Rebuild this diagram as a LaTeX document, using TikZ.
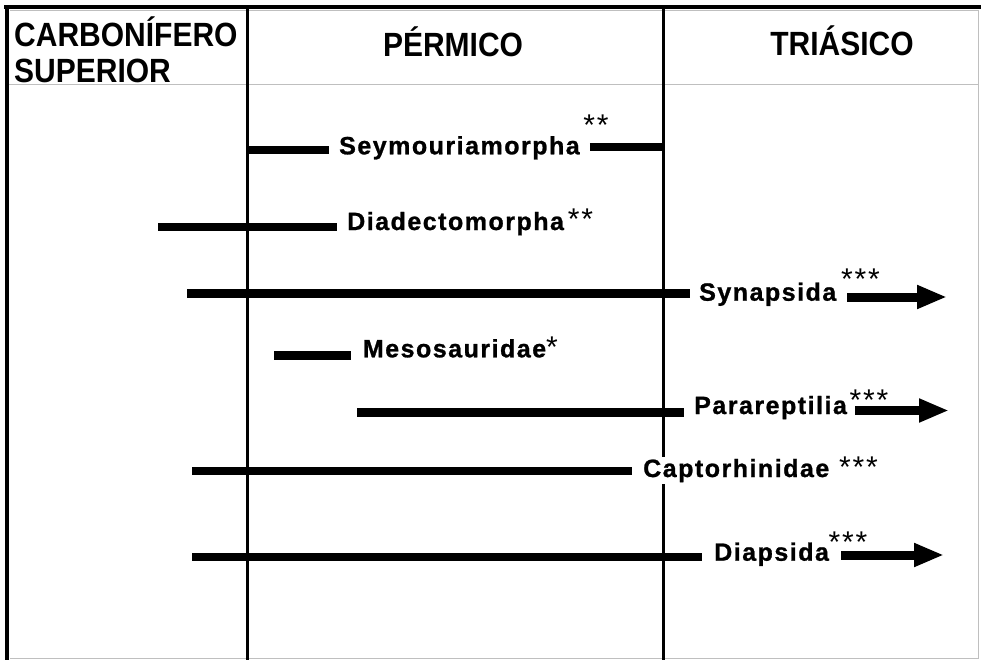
\documentclass[tikz,border=0pt]{standalone}
\usepackage{graphicx}
\usepackage{fontspec}
\setmainfont{Liberation Sans}
\newfontfamily\labfont[LetterSpace=6]{Liberation Sans}
\newfontfamily\labboldfont[LetterSpace=6, FakeBold=1]{Liberation Sans Bold}
\usetikzlibrary{arrows.meta}
\newcommand{\tallhdr}[1]{\scalebox{1}[1.12]{#1}}
\begin{document}
\begin{tikzpicture}[x=1pt,y=-1pt,
  frameline/.style={line width=4pt},
  faint/.style={line width=1pt, black!25},
  era/.style={line width=3pt},
  bar/.style={line width=8.5pt},
  fwd/.style={line width=9pt, -{Triangle[length=30pt,width=22pt]}},
  lab/.style={font=\labboldfont\fontsize{25}{30}\selectfont, inner sep=0pt, anchor=base west},
  star/.style={font=\labfont\fontsize{30}{34}\selectfont, inner sep=0pt, anchor=base},
  hdr/.style={font=\fontsize{30}{34}\selectfont\bfseries, inner sep=0pt}
]
\useasboundingbox (0,0) rectangle (981,660);
\fill[white] (0,0) rectangle (981,660);
% frame
\draw[faint] (10,10.5) -- (978.5,10.5) -- (978.5,658) -- (10,658);
\draw[faint] (8,85) -- (978.5,85);
\draw[frameline] (4,7.5) -- (981,7.5);
\draw[frameline] (6.5,5.5) -- (6.5,660);
\draw[era] (247,7) -- (247,660);
\draw[era] (663,7) -- (663,660);
% headers
\node[hdr, anchor=base west] (carb1) at (14,47) {\tallhdr{CARBONÍFERO}};
\node[hdr, anchor=base west] (carb2) at (14,83) {\tallhdr{SUPERIOR}};
\node[hdr, anchor=base] (perm) at (453,57) {\tallhdr{PÉRMICO}};
\node[hdr, anchor=base] (tria) at (842,56) {\tallhdr{TRIÁSICO}};
% labels
\node[lab] (seym) at (339,154.3) {Seymouriamorpha};
\node[lab] (diad) at (347,230) {Diadectomorpha};
\node[lab] (syn) at (699,300.7) {Synapsida};
\node[lab] (meso) at (362.7,357.3) {Mesosauridae};
\node[lab] (para) at (694,414) {Parareptilia};
\node[lab, fill=white, inner ysep=2pt] (capt) at (643,477) {Captorhinidae};
\node[lab] (diap) at (714,560.7) {Diapsida};
% asterisks
\node[star] (seymS) at (596,135.2) {**};
\node[star] (diadS) at (580.5,229.7) {**};
\node[star] (synS) at (860.5,289.2) {***};
\node[star] (mesoS) at (552,357.7) {*};
\node[star] (paraS) at (869,410.2) {***};
\node[star] (captS) at (858.5,477.7) {***};
\node[star] (diapS) at (848,552.7) {***};
% bar ends
\coordinate (seymA) at (248,150);
\coordinate (seymB) at (662,147);
\coordinate (diadA) at (158,227);
\coordinate (synA) at (187,293.5);
\coordinate (synT) at (947,297);
\coordinate (mesoA) at (274,355.5);
\coordinate (paraA) at (357,412.5);
\coordinate (paraT) at (949,410.5);
\coordinate (captA) at (192,471);
\coordinate (diapA) at (192,557);
\coordinate (diapT) at (944,555);
% bars
\draw[bar, shorten >=10pt] (seymA) -- (seymA -| seym.west);
\draw[bar, shorten <=10pt] (seymB -| seym.east) -- (seymB);
\draw[bar, shorten >=10pt] (diadA) -- (diadA -| diad.west);
\draw[bar, shorten >=9pt] (synA) -- (synA -| syn.west);
\draw[fwd, shorten <=11pt] (synT -| syn.east) -- (synT);
\draw[bar, shorten >=11.7pt] (mesoA) -- (mesoA -| meso.west);
\draw[bar, shorten >=10pt] (paraA) -- (paraA -| para.west);
\draw[fwd, shorten <=8pt] (paraT -| para.east) -- (paraT);
\draw[bar, shorten >=11pt] (captA) -- (captA -| capt.west);
\draw[bar, shorten >=12pt] (diapA) -- (diapA -| diap.west);
\draw[fwd, shorten <=12pt] (diapT -| diap.east) -- (diapT);
\end{tikzpicture}
\end{document}
